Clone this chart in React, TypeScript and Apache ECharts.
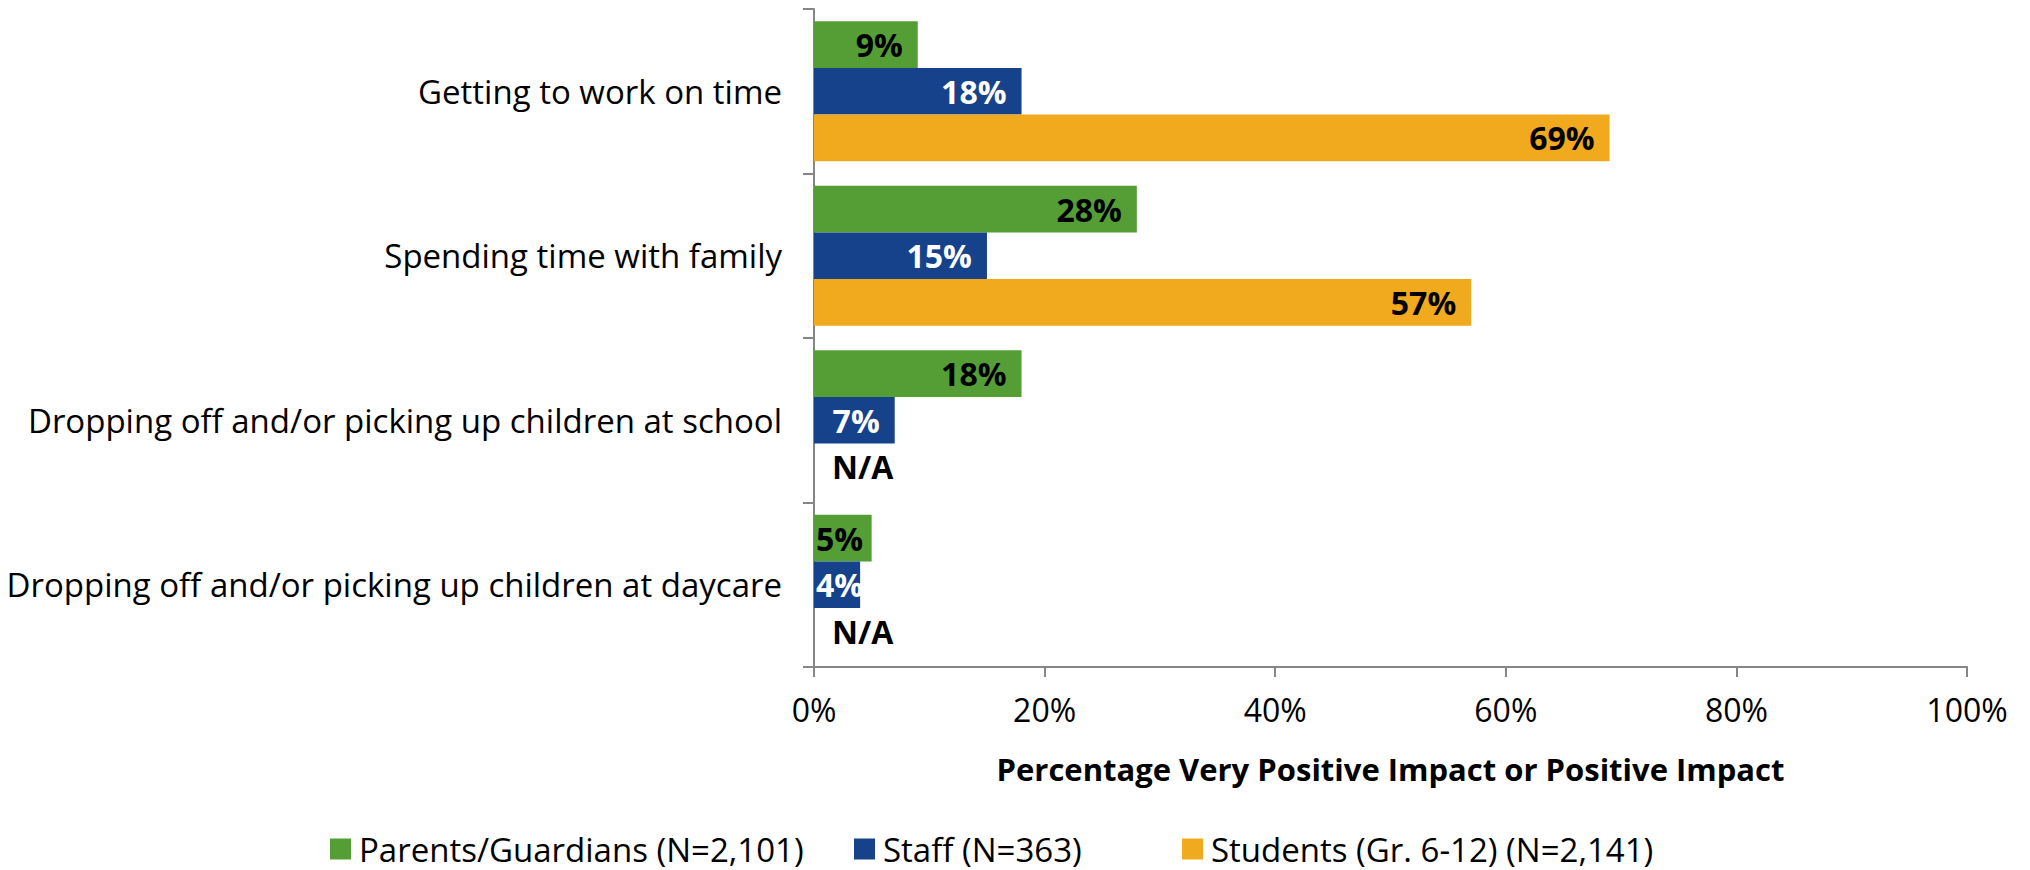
import React, { useEffect, useRef } from "react";
import * as echarts from "echarts";

const categories = [
  "Getting to work on time",
  "Spending time with family",
  "Dropping off and/or picking up children at school",
  "Dropping off and/or picking up children at daycare",
];
const seriesNames = [
  "Parents/Guardians (N=2,101)",
  "Staff (N=363)",
  "Students (Gr. 6-12) (N=2,141)",
];
const parentsValues: (number | null)[] = [9, 28, 18, 5];
const staffValues: (number | null)[] = [18, 15, 7, 4];
const studentsValues: (number | null)[] = [69, 57, null, null];
const xTicks = [0, 20, 40, 60, 80, 100];
const xAxisTitle = "Percentage Very Positive Impact or Positive Impact";

const colors = ["#559E36", "#15428B", "#F1AA1E"];
const labelColors = ["#000000", "#FFFFFF", "#000000"];
const legendLefts = [330, 854, 1182];
const FONT = "'Open Sans', sans-serif";

export default function App() {
  const ref = useRef<HTMLDivElement>(null);
  useEffect(() => {
    document.body.style.margin = "0";
    if (!ref.current) return;
    const chart = echarts.init(ref.current, undefined, { renderer: "svg" });
    const all = [parentsValues, staffValues, studentsValues];
    const series = all.map((vals, i) => ({
      name: seriesNames[i],
      type: "bar",
      barGap: "0%",
      barCategoryGap: "15%",
      itemStyle: { color: colors[i] },
      label: {
        show: true,
        position: "insideRight",
        distance: 15,
        formatter: (p: any) => `${p.value}%`,
        color: labelColors[i],
        fontFamily: FONT,
        fontWeight: "bold",
        fontSize: 32,
      },
      data: vals.map((v) => {
        if (v === null)
          return {
            value: 0,
            label: {
              show: true,
              position: "right",
              distance: 18,
              formatter: "N/A",
              color: "#000000",
              fontFamily: FONT,
              fontWeight: "bold",
              fontSize: 32,
            },
          };
        if (v <= 5)
          return { value: v, label: { position: "insideLeft", distance: 2 } };
        return v;
      }),
    }));
    chart.setOption({
      animation: false,
      textStyle: { fontFamily: FONT },
      grid: { left: 814, right: 63, top: 9, bottom: 203, containLabel: false },
      legend: seriesNames.map((name, i) => ({
        data: [name],
        bottom: 4,
        left: legendLefts[i],
        padding: 0,
        itemWidth: 21,
        itemHeight: 21,
        icon: "rect",
        textStyle: {
          fontFamily: FONT,
          fontSize: 33,
          lineHeight: 34,
          color: "#000",
          padding: [0, 0, 0, 3],
        },
      })),
      xAxis: {
        type: "value",
        min: xTicks[0],
        max: xTicks[xTicks.length - 1],
        interval: 20,
        axisLine: { show: true, lineStyle: { color: "#868686", width: 2 } },
        axisTick: { show: true, length: 10, lineStyle: { color: "#868686", width: 2 } },
        splitLine: { show: false },
        axisLabel: {
          formatter: "{value}%",
          fontFamily: FONT,
          fontSize: 32,
          color: "#000",
          margin: 26,
        },
        name: xAxisTitle,
        nameLocation: "middle",
        nameGap: 86,
        nameTextStyle: { fontFamily: FONT, fontSize: 31, fontWeight: "bold", color: "#000" },
      },
      yAxis: {
        type: "category",
        inverse: true,
        data: categories,
        axisLine: { show: true, lineStyle: { color: "#868686", width: 2 } },
        axisTick: { show: true, length: 11, lineStyle: { color: "#868686", width: 2 } },
        axisLabel: { fontFamily: FONT, fontSize: 33, color: "#000", margin: 32 },
      },
      series,
    });
    return () => chart.dispose();
  }, []);
  return <div ref={ref} style={{ width: 2030, height: 870 }} />;
}
